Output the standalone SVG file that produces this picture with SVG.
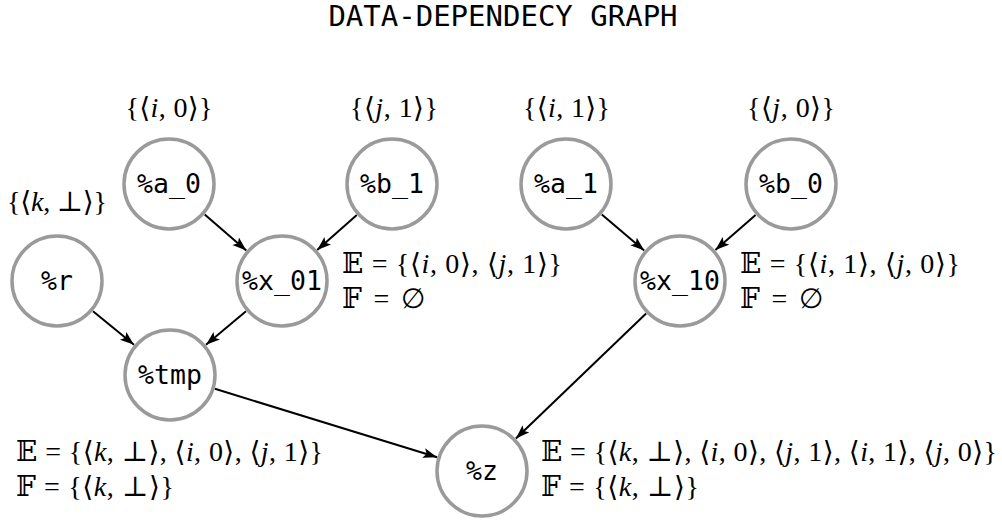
<svg xmlns="http://www.w3.org/2000/svg" width="1002" height="525" viewBox="0 0 1002 525">
<style>
.title{font-family:"DejaVu Sans Mono",monospace;font-size:29px;fill:#000;text-anchor:middle}
.node circle{fill:#fff;stroke:#9a9a9a;stroke-width:3.5}
.node text{font-family:"DejaVu Sans Mono",monospace;font-size:26.5px;fill:#000;text-anchor:middle}
.m{font-family:"Liberation Serif","DejaVu Serif",serif;font-size:28px;fill:#000}
.c{text-anchor:middle}
.it{font-style:italic}
.edges line{stroke:#000;stroke-width:2;marker-end:url(#arr)}
</style>
<defs>
<marker id="arr" markerUnits="userSpaceOnUse" markerWidth="16" markerHeight="12" refX="14" refY="5" orient="auto">
<path d="M0,0 L14,5 L0,10 L3,5 Z" fill="#000"/>
</marker>
</defs>
<rect width="1002" height="525" fill="#fff"/>
<text class="title" x="503" y="26">DATA-DEPENDECY GRAPH</text>
<g class="edges">
<line x1="204.7" y1="214.6" x2="246.3" y2="250.4"/>
<line x1="356.8" y1="215.1" x2="317.2" y2="249.9"/>
<line x1="601.8" y1="214.5" x2="644.2" y2="250.5"/>
<line x1="755.6" y1="214.9" x2="715.4" y2="250.1"/>
<line x1="93" y1="311.3" x2="134" y2="344.7"/>
<line x1="246" y1="311.2" x2="206" y2="344.8"/>
<line x1="214.9" y1="388.8" x2="437.1" y2="457.2"/>
<line x1="646.1" y1="313.5" x2="515.9" y2="438.5"/>
</g>
<g id="a_0" class="node"><circle cx="169" cy="184" r="45"/><text x="169" y="193">%a_0</text></g>
<g id="b_1" class="node"><circle cx="392" cy="184" r="45"/><text x="392" y="193">%b_1</text></g>
<g id="r" class="node"><circle cx="57" cy="281" r="45"/><text x="57" y="290">%r</text></g>
<g id="x_01" class="node"><circle cx="282" cy="281" r="45"/><text x="282" y="290">%x_01</text></g>
<g id="tmp" class="node"><circle cx="170" cy="375" r="45"/><text x="170" y="384">%tmp</text></g>
<g id="a_1" class="node"><circle cx="566" cy="184" r="45"/><text x="566" y="193">%a_1</text></g>
<g id="b_0" class="node"><circle cx="791" cy="184" r="45"/><text x="791" y="193">%b_0</text></g>
<g id="x_10" class="node"><circle cx="680" cy="281" r="45"/><text x="680" y="290">%x_10</text></g>
<g id="z" class="node"><circle cx="482" cy="471" r="45"/><text x="482" y="480">%z</text></g>
<g id="labels">
<text class="m c" x="169" y="117" textLength="87">{⟨<tspan class="it">i</tspan>, 0⟩}</text>
<text class="m c" x="394" y="117" textLength="88">{⟨<tspan class="it">j</tspan>, 1⟩}</text>
<text class="m c" x="566.5" y="117" textLength="87">{⟨<tspan class="it">i</tspan>, 1⟩}</text>
<text class="m c" x="791" y="117" textLength="88">{⟨<tspan class="it">j</tspan>, 0⟩}</text>
<text class="m c" x="57" y="211" textLength="100">{⟨<tspan class="it">k</tspan>, ⊥⟩}</text>
<text class="m" x="342" y="273" textLength="220">𝔼 = {⟨<tspan class="it">i</tspan>, 0⟩, ⟨<tspan class="it">j</tspan>, 1⟩}</text>
<text class="m" x="342" y="308" textLength="83">𝔽 = ∅</text>
<text class="m" x="740" y="273" textLength="220">𝔼 = {⟨<tspan class="it">i</tspan>, 1⟩, ⟨<tspan class="it">j</tspan>, 0⟩}</text>
<text class="m" x="740" y="308" textLength="83">𝔽 = ∅</text>
<text class="m" x="16" y="461" textLength="307">𝔼 = {⟨<tspan class="it">k</tspan>, ⊥⟩, ⟨<tspan class="it">i</tspan>, 0⟩, ⟨<tspan class="it">j</tspan>, 1⟩}</text>
<text class="m" x="16" y="496" textLength="158">𝔽 = {⟨<tspan class="it">k</tspan>, ⊥⟩}</text>
<text class="m" x="541" y="461" textLength="456">𝔼 = {⟨<tspan class="it">k</tspan>, ⊥⟩, ⟨<tspan class="it">i</tspan>, 0⟩, ⟨<tspan class="it">j</tspan>, 1⟩, ⟨<tspan class="it">i</tspan>, 1⟩, ⟨<tspan class="it">j</tspan>, 0⟩}</text>
<text class="m" x="541" y="496" textLength="158">𝔽 = {⟨<tspan class="it">k</tspan>, ⊥⟩}</text>
</g>
</svg>
